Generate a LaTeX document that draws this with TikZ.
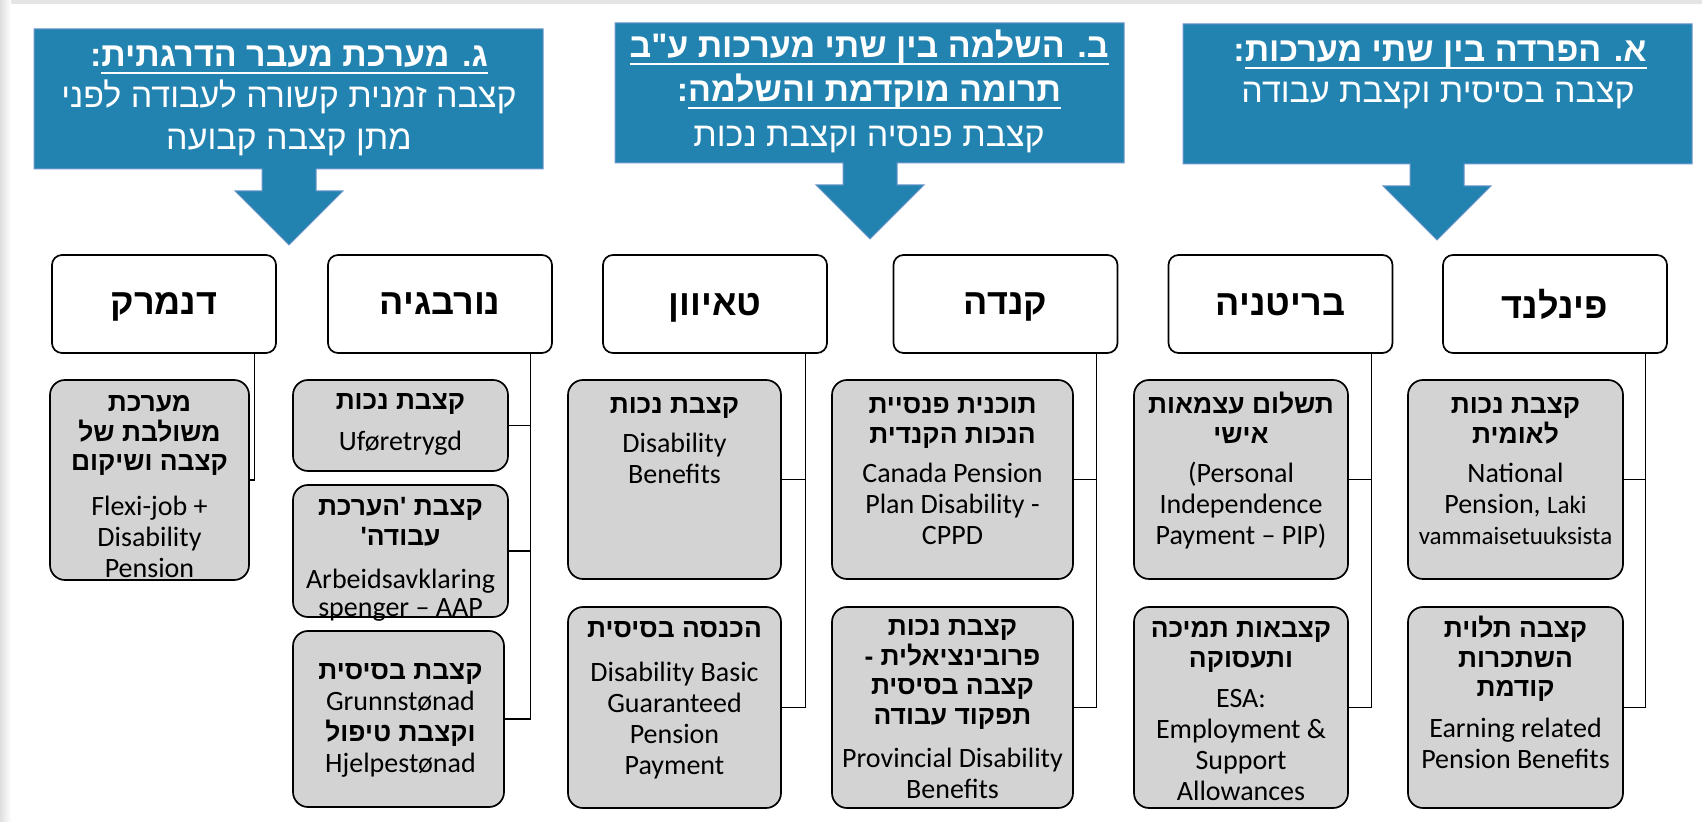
\documentclass[tikz,border=0pt]{standalone}
\usepackage{fontspec}
\setmainfont{Carlito}
\newfontfamily\heb[Script=Hebrew]{Liberation Sans}
\TeXXeTstate=1
\usetikzlibrary{fit}
\definecolor{callblue}{RGB}{34,131,176}
\definecolor{calledge}{RGB}{110,150,205}
\definecolor{boxgray}{RGB}{211,211,211}
\newcommand\R[1]{\beginR #1\endR}
\newsavebox\ulsave
\newcommand\ulh[1]{\sbox\ulsave{\beginR #1\endR}\rlap{\rule[-3.6pt]{\wd\ulsave}{1.1pt}}\usebox\ulsave}
\newcommand\hbk[1]{\begin{minipage}[t]{130pt}\centering\heb\bfseries\fontsize{13.2}{14.75}\selectfont #1\end{minipage}}
\newcommand\ebk[2][15.5]{\begin{minipage}[t]{130pt}\centering\fontsize{14}{#1}\selectfont #2\end{minipage}}
\newcommand\callout[3]{%
  \path[fill=callblue, draw=calledge, line width=0.5pt] (#1,#2) -- (#1+509,#2) -- (#1+509,#2+140)
    -- (#3+27,#2+140) -- (#3+27,#2+162) -- (#3+54,#2+162) -- (#3,#2+216) -- (#3-54,#2+162)
    -- (#3-27,#2+162) -- (#3-27,#2+140) -- (#1,#2+140) -- cycle;}
\tikzset{
  ctext/.style={text=white, inner sep=0, anchor=base, font=\heb\fontsize{17}{20}\selectfont},
  chead/.style={ctext, font=\heb\bfseries\fontsize{17}{20}\selectfont},
  country/.style={draw=black, fill=white, line width=0.85pt, rounded corners=5pt, inner sep=0,
    minimum width=112pt, minimum height=49pt, text depth=0pt,
    font=\heb\bfseries\fontsize{18}{21}\selectfont},
  gbox/.style={draw=black, fill=boxgray, line width=0.85pt, rounded corners=7.5pt, inner sep=0},
  tblock/.style={inner sep=0, anchor=base},
  conn/.style={draw=black, line width=0.6pt}
}
\begin{document}
\begin{tikzpicture}[x=0.5pt, y=-0.5pt]
\useasboundingbox (0,0) rectangle (1702,822);
\fill[white] (0,0) rectangle (1702,822);
\fill[gray!20] (0,0) rectangle (1702,4);
\shade[left color=gray!25, right color=white] (0,0) rectangle (11,822);

% callouts
\callout{34}{29}{289}
\callout{615}{23}{870}
\callout{1183}{24}{1437}

\node[chead] (g1) at (289,67) {:\ulh{ג. מערכת מעבר הדרגתית}};
\node[ctext] (g2) at (289,108) {\R{קצבה זמנית קשורה לעבודה לפני}};
\node[ctext] (g3) at (289,150) {\R{מתן קצבה קבועה}};

\node[chead] (b1) at (869,58) {\ulh{ב. השלמה בין שתי מערכות ע"ב}};
\node[chead] (b2) at (869,102) {:\ulh{תרומה מוקדמת והשלמה}};
\node[ctext] (b3) at (869,147) {\R{קצבת פנסיה וקצבת נכות}};

\node[chead] (a1) at (1440,62) {:\ulh{א. הפרדה בין שתי מערכות}};
\node[ctext] (a2) at (1438,103) {\R{קצבה בסיסית וקצבת עבודה}};

% countries
\node[country] (dk) at (164,304) {\R{דנמרק}};
\node[country] (no) at (440,304) {\R{נורבגיה}};
\node[country] (tw) at (715,304) {\R{טאיוון}};
\node[country] (ca) at (1005.5,304) {\R{קנדה}};
\node[country] (br) at (1280.5,304) {\R{בריטניה}};
\node[country] (fi) at (1555,304) {\R{פינלנד}};

% gray boxes
\node[gbox, fit={(50,380) (249,580)}] (dkg) {};
\node[gbox, fit={(293,380) (508,471)}] (nog1) {};
\node[gbox, fit={(293,485) (508,617)}] (nog2) {};
\node[gbox, fit={(293,631) (504,807)}] (nog3) {};
\node[gbox, fit={(568,380) (781,579)}] (twg1) {};
\node[gbox, fit={(568,607) (781,808)}] (twg2) {};
\node[gbox, fit={(832,380) (1073,579)}] (cag1) {};
\node[gbox, fit={(832,607) (1073,808)}] (cag2) {};
\node[gbox, fit={(1134,380) (1348,579)}] (brg1) {};
\node[gbox, fit={(1134,607) (1348,808)}] (brg2) {};
\node[gbox, fit={(1408,380) (1623,579)}] (fig1) {};
\node[gbox, fit={(1408,607) (1623,808)}] (fig2) {};

% connectors
\draw[conn] ([xshift=-11pt]dk.south east) |- (dkg.east);
\draw[conn] ([xshift=-11pt]no.south east) |- (nog1.east);
\draw[conn] ([xshift=-11pt]no.south east) |- (nog2.east);
\draw[conn] ([xshift=-11pt]no.south east) |- (nog3.east);
\draw[conn] ([xshift=-11pt]tw.south east) |- (twg1.east);
\draw[conn] ([xshift=-11pt]tw.south east) |- (twg2.east);
\draw[conn] ([xshift=-11pt]ca.south east) |- (cag1.east);
\draw[conn] ([xshift=-11pt]ca.south east) |- (cag2.east);
\draw[conn] ([xshift=-11pt]br.south east) |- (brg1.east);
\draw[conn] ([xshift=-11pt]br.south east) |- (brg2.east);
\draw[conn] ([xshift=-11pt]fi.south east) |- (fig1.east);
\draw[conn] ([xshift=-11pt]fi.south east) |- (fig2.east);

% texts
\node[tblock] (dkh) at (149.5,412) {\hbk{\R{מערכת}\\ \R{משולבת של}\\ \R{קצבה ושיקום}}};
\node[tblock] (dke) at (149.5,516) {\ebk{Flexi-job +\\ Disability\\ Pension}};

\node[tblock] (no1h) at (400.5,410) {\hbk{\R{קצבת נכות}}};
\node[tblock] (no1e) at (400.5,451) {\ebk{Uføretrygd}};
\node[tblock] (no2h) at (400.5,516) {\hbk{\R{קצבת 'הערכת}\\ \R{עבודה'}}};
\node[tblock] (no2e) at (400.5,589) {\ebk[14]{Arbeidsavklaring\\ spenger – AAP}};
\node[tblock] (no3) at (400.5,680) {\begin{minipage}[t]{130pt}\centering\fontsize{14}{15.5}\selectfont
  {\heb\bfseries\fontsize{13.2}{15.5}\selectfont\R{קצבת בסיסית}}\\ Grunnstønad\\
  {\heb\bfseries\fontsize{13.2}{15.5}\selectfont\R{וקצבת טיפול}}\\ Hjelpestønad\end{minipage}};

\node[tblock] (tw1h) at (674.5,414) {\hbk{\R{קצבת נכות}}};
\node[tblock] (tw1e) at (674.5,453) {\ebk{Disability\\ Benefits}};
\node[tblock] (tw2h) at (674.5,638) {\hbk{\R{הכנסה בסיסית}}};
\node[tblock] (tw2e) at (674.5,682) {\ebk{Disability Basic\\ Guaranteed\\ Pension\\ Payment}};

\node[tblock] (ca1h) at (952.5,414) {\hbk{\R{תוכנית פנסיית}\\ \R{הנכות הקנדית}}};
\node[tblock] (ca1e) at (952.5,483) {\ebk{Canada Pension\\ Plan Disability -\\ CPPD}};
\node[tblock] (ca2h) at (952.5,636) {\hbk{\R{קצבת נכות}\\ \R{פרובינציאלית -}\\ \R{קצבה בסיסית}\\ \R{תפקוד עבודה}}};
\node[tblock] (ca2e) at (952.5,768) {\ebk{Provincial Disability\\ Benefits}};

\node[tblock] (br1h) at (1241,414) {\hbk{\R{תשלום עצמאות}\\ \R{אישי}}};
\node[tblock] (br1e) at (1241,483) {\ebk{(Personal\\ Independence\\ Payment – PIP)}};
\node[tblock] (br2h) at (1241,638) {\hbk{\R{קצבאות תמיכה}\\ \R{ותעסוקה}}};
\node[tblock] (br2e) at (1241,708) {\ebk{ESA:\\ Employment \&\\ Support\\ Allowances}};

\node[tblock] (fi1h) at (1515.5,414) {\hbk{\R{קצבת נכות}\\ \R{לאומית}}};
\node[tblock] (fi1e) at (1515.5,483) {\ebk{National\\ Pension, {\fontsize{12.5}{15.5}\selectfont Laki}\\ {\fontsize{12.5}{15.5}\selectfont vammaisetuuksista}}};
\node[tblock] (fi2h) at (1515.5,638) {\hbk{\R{קצבה תלוית}\\ \R{השתכרות}\\ \R{קודמת}}};
\node[tblock] (fi2e) at (1515.5,738) {\ebk{Earning related\\ Pension Benefits}};
\end{tikzpicture}
\end{document}
